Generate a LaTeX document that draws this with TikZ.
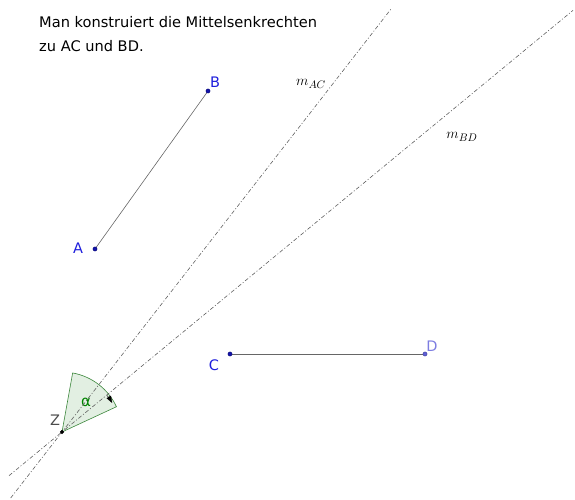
\documentclass[tikz,border=0pt]{standalone}
\usepackage{fontspec}
\setmainfont{DejaVu Sans}
\usepackage{xcolor}
\usepackage{tikz}
\usetikzlibrary{arrows.meta, calc}
\definecolor{ptB}{RGB}{20,20,170}
\definecolor{labB}{RGB}{30,30,220}
\definecolor{ptD}{RGB}{95,95,215}
\definecolor{labD}{RGB}{125,125,225}
\definecolor{secG}{RGB}{60,135,60}
\definecolor{secF}{RGB}{226,239,226}
\definecolor{alphaG}{RGB}{0,130,0}

\begin{document}
\begin{tikzpicture}[x=1pt, y=1pt, every node/.style={font=\fontsize{14.5}{16}\selectfont},
  pt/.style={circle, inner sep=0pt, minimum size=4.2pt, draw=ptB!70!black, fill=ptB},
  seg/.style={gray!80!black, line width=0.6pt},
  mline/.style={gray!75!black, line width=0.6pt, dash pattern=on 4pt off 2pt on 1pt off 2pt},
  lab/.style={labB}]
\useasboundingbox (0,0) rectangle (575,500);
% points
\coordinate (A) at (95,251);
\coordinate (B) at (208,409);
\coordinate (C) at (230,146);
\coordinate (D) at (425,146);
\coordinate (Z) at (62,68);
% ends of the bisectors
\coordinate (mac1) at (10.7,2);
\coordinate (mac2) at (391.8,492);
\coordinate (mbd1) at (9,24.3);
\coordinate (mbd2) at (573,489.6);
% sector of the rotation angle
\fill[secF] (Z) -- ($(Z)!60pt!(A)$) arc[start angle=79.8, end angle=24.9, radius=60] -- cycle;
\draw[secG, line width=0.6pt] (Z) -- ($(Z)!60pt!(A)$) arc[start angle=79.8, end angle=24.9, radius=60] -- cycle;
\draw[black, line width=0.4pt, -{Triangle[length=7pt, width=5pt]}] ($(Z)+(39:58)$) arc[start angle=39, end angle=30, radius=58];
\node[alphaG, font=\fontsize{15}{17}\selectfont] (alpha) at (86,98) {α};
% bisectors
\draw[mline] (mac1) -- (mac2);
\draw[mline] (mbd1) -- (mbd2);
\node[font=\fontsize{15.5}{17}\selectfont] (mAC) at (311,416) {$m_{AC}$};
\node[font=\fontsize{15.5}{17}\selectfont] (mBD) at (462,363) {$m_{BD}$};
% segments
\draw[seg] (A) -- (B);
\draw[seg] (C) -- (D);
\node[pt] (pA) at (A) {};
\node[pt] (pB) at (B) {};
\node[pt] (pC) at (C) {};
\node[pt, draw=ptD!70!black, fill=ptD] (pD) at (D) {};
\node[pt, draw=black, fill=black, minimum size=3.5pt] (pZ) at (Z) {};
\node[lab] (lA) at (78,252) {A};
\node[lab] (lB) at (215,418) {B};
\node[lab] (lC) at (214,135) {C};
\node[labD] (lD) at (432,154) {D};
\node[black!70] (lZ) at (55,80) {Z};
% text
\node[anchor=base west, inner sep=0pt, align=left, font=\fontsize{14.6}{24}\selectfont] (txt) at (39,448)
  {Man konstruiert die Mittelsenkrechten\\zu AC und BD.};
\end{tikzpicture}
\end{document}
